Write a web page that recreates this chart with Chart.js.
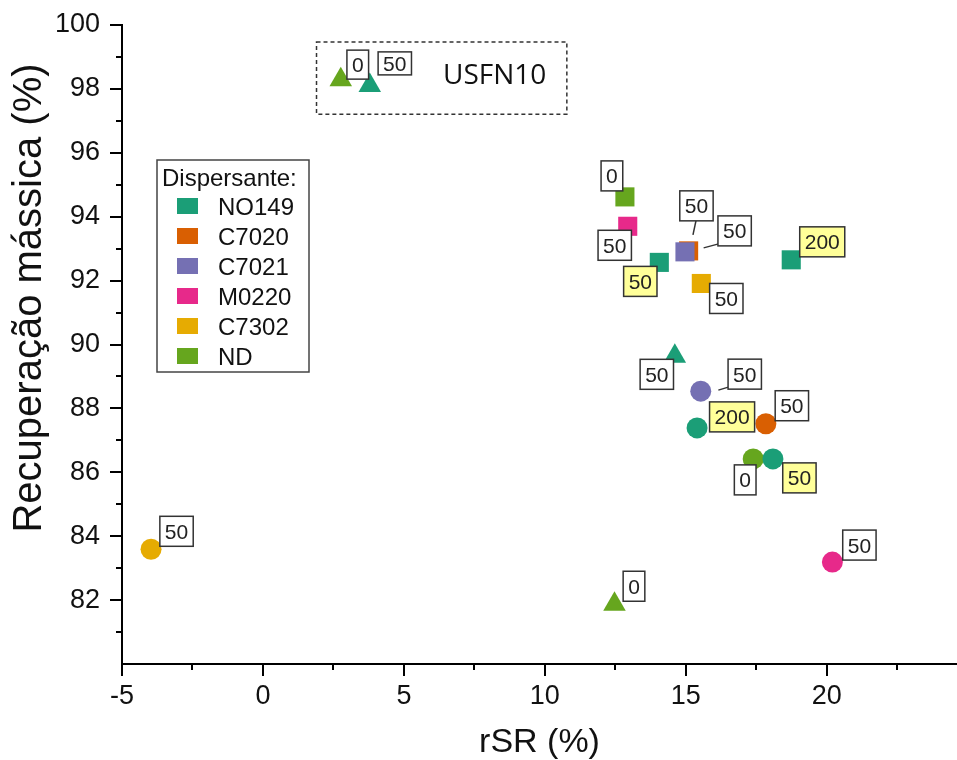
<!DOCTYPE html>
<html>
<head>
<meta charset="utf-8">
<title>Recuperação mássica vs rSR</title>
<script src="https://cdn.jsdelivr.net/npm/chart.js@4.4.1/dist/chart.umd.min.js"></script>
<style>
  html, body { margin: 0; padding: 0; background: #ffffff; }
  #wrap { width: 957px; height: 760px; }
</style>
</head>
<body>
<div id="wrap"><canvas id="chart" width="957" height="760"></canvas></div>
<script>
// ---- data ----
const dispersants = ['NO149', 'C7020', 'C7021', 'M0220', 'C7302', 'ND'];
const dispersantColors = ['#1b9e77', '#d95f02', '#7570b3', '#e7298a', '#e6ab02', '#66a61e'];

// one entry per sample
const sampleDispersant = ['ND', 'NO149', 'ND', 'M0220', 'NO149', 'C7021', 'C7020', 'C7302', 'NO149',
                          'NO149', 'C7021', 'NO149', 'C7020', 'ND', 'NO149', 'C7302', 'M0220', 'ND'];
const sampleGroup = ['T', 'T', 'S', 'S', 'S', 'S', 'S', 'S', 'S',
                     'T', 'C', 'C', 'C', 'C', 'C', 'C', 'C', 'T'];
const rSR = [2.76, 3.79, 12.84, 12.94, 14.06, 14.97, 15.10, 15.55, 18.74,
             14.61, 15.53, 15.40, 17.84, 17.39, 18.09, -3.97, 20.20, 12.47];
const recovery = [98.29, 98.11, 94.62, 93.70, 92.57, 92.90, 92.93, 91.91, 92.65,
                  89.63, 88.54, 87.39, 87.52, 86.42, 86.42, 83.59, 83.19, 81.87];
const dosage = ['0', '50', '0', '50', '50', '50', '50', '50', '200',
                '50', '50', '200', '50', '0', '50', '50', '50', '0'];
const highlighted = [false, false, false, false, true, false, false, false, true,
                     false, false, true, false, false, true, false, false, false];

const xTickLabels = [-5, 0, 5, 10, 15, 20];
const yTickLabels = [82, 84, 86, 88, 90, 92, 94, 96, 98, 100];

// USFN10 group frame (axis units)
const usfnFrame = { xMin: 1.90, xMax: 10.78, yMin: 97.21, yMax: 99.47, textX: 8.22, textY: 98.40, text: 'USFN10' };

// ---- presentation ----
const FONT = '"Liberation Sans", Arial, Helvetica, sans-serif';
const groupMarker = { T: 'triangle', S: 'rect', C: 'circle' };
const markerRadius = { triangle: 13, rect: 13.5, circle: 10.5 };
const stackOrder = ['NO149', 'C7021', 'C7020', 'M0220', 'C7302', 'ND'];

// label box placement relative to its marker, in pixels
const labelOffsets = [
  [17, -15], [25, -22], [-13, -21], [-13, 19], [-19, 19], [11.5, -46], [46, -20], [25, 15], [31, -18],
  [-18, 18], [44, -17], [35, -11], [26, -18], [-8, 21], [26.5, 19], [25.5, -18], [27, -17], [19.5, -18]
];
const labelBoxHeight = { 0: 29, 1: 23 };
const leaderLines = { 5: [11, -31, 8, -17], 6: [15, -3, 30, -7], 10: [17.6, -1, 27.6, -4] };

const datasets = stackOrder.map(name => {
  const idx = sampleDispersant.map((d, i) => (d === name ? i : -1)).filter(i => i >= 0);
  const color = dispersantColors[dispersants.indexOf(name)];
  const styles = idx.map(i => groupMarker[sampleGroup[i]]);
  return {
    label: name,
    data: idx.map(i => ({ x: rSR[i], y: recovery[i] })),
    pointStyle: styles,
    pointRadius: styles.map(s => markerRadius[s]),
    pointHoverRadius: styles.map(s => markerRadius[s]),
    backgroundColor: color,
    borderColor: color,
    pointBorderWidth: 0,
    borderWidth: 0
  };
});

// outward tick marks, major and minor
const axisTicks = {
  id: 'axisTicks',
  afterDraw(chart) {
    const { ctx, chartArea } = chart;
    const xs = chart.scales.x, ys = chart.scales.y;
    ctx.save();
    ctx.strokeStyle = '#000';
    ctx.lineWidth = 2;
    ctx.beginPath();
    for (let v = -5; v <= 22.5 + 1e-9; v += 2.5) {
      const px = Math.round(xs.getPixelForValue(v));
      const len = Math.abs(v % 5) < 1e-9 ? 12 : 6;
      ctx.moveTo(px, chartArea.bottom);
      ctx.lineTo(px, chartArea.bottom + len);
    }
    for (let v = 81; v <= 100; v += 1) {
      const py = Math.round(ys.getPixelForValue(v));
      const len = v % 2 === 0 ? 12 : 6;
      ctx.moveTo(chartArea.left, py);
      ctx.lineTo(chartArea.left - len, py);
    }
    ctx.stroke();
    ctx.restore();
  }
};

// dashed frame around the USFN10 samples
const groupFrame = {
  id: 'groupFrame',
  beforeDatasetsDraw(chart) {
    const { ctx } = chart;
    const xs = chart.scales.x, ys = chart.scales.y;
    const l = xs.getPixelForValue(usfnFrame.xMin), r = xs.getPixelForValue(usfnFrame.xMax);
    const t = ys.getPixelForValue(usfnFrame.yMax), b = ys.getPixelForValue(usfnFrame.yMin);
    ctx.save();
    ctx.strokeStyle = '#333';
    ctx.lineWidth = 1.5;
    ctx.setLineDash([4, 3]);
    ctx.strokeRect(l, t, r - l, b - t);
    ctx.setLineDash([]);
    ctx.fillStyle = '#111';
    ctx.font = '28px "Open Sans", Lato, sans-serif';
    ctx.textAlign = 'center';
    ctx.textBaseline = 'middle';
    ctx.fillText(usfnFrame.text, xs.getPixelForValue(usfnFrame.textX), ys.getPixelForValue(usfnFrame.textY));
    ctx.restore();
  }
};

// boxed dosage labels next to each marker
const dosageLabels = {
  id: 'dosageLabels',
  afterDatasetsDraw(chart) {
    const { ctx } = chart;
    const xs = chart.scales.x, ys = chart.scales.y;
    const fs = 21;
    ctx.save();
    ctx.font = fs + 'px ' + FONT;
    rSR.forEach((v, i) => {
      const px = xs.getPixelForValue(v), py = ys.getPixelForValue(recovery[i]);
      const lead = leaderLines[i];
      if (lead) {
        ctx.strokeStyle = '#333';
        ctx.lineWidth = 1.5;
        ctx.beginPath();
        ctx.moveTo(px + lead[0], py + lead[1]);
        ctx.lineTo(px + lead[2], py + lead[3]);
        ctx.stroke();
      }
      const [dx, dy] = labelOffsets[i];
      const tw = ctx.measureText(dosage[i]).width;
      const w = tw + 10, h = labelBoxHeight[i] || 30;
      const cx = px + dx, cy = py + dy;
      ctx.fillStyle = highlighted[i] ? '#ffff99' : '#ffffff';
      ctx.fillRect(cx - w / 2, cy - h / 2, w, h);
      ctx.strokeStyle = '#333';
      ctx.lineWidth = 1.5;
      ctx.strokeRect(cx - w / 2, cy - h / 2, w, h);
      ctx.fillStyle = '#222';
      ctx.textAlign = 'center';
      ctx.textBaseline = 'alphabetic';
      ctx.fillText(dosage[i], cx, cy + 0.358 * fs);
    });
    ctx.restore();
  }
};

// dispersant key and rotated y title
const keyAndTitle = {
  id: 'keyAndTitle',
  afterDraw(chart) {
    const { ctx } = chart;
    ctx.save();
    const box = { left: 157, top: 160, width: 152, height: 212 };
    ctx.strokeStyle = '#444';
    ctx.lineWidth = 1.5;
    ctx.strokeRect(box.left, box.top, box.width, box.height);
    const fs = 24;
    ctx.font = fs + 'px ' + FONT;
    ctx.fillStyle = '#111';
    ctx.textAlign = 'left';
    ctx.textBaseline = 'alphabetic';
    ctx.fillText('Dispersante:', box.left + 5, 177 + 0.358 * fs);
    dispersants.forEach((name, i) => {
      const y = 206 + i * 30;
      ctx.fillStyle = dispersantColors[i];
      ctx.fillRect(177, y - 8, 21, 16);
      ctx.fillStyle = '#111';
      ctx.fillText(name, 218, y + 0.358 * fs);
    });

    ctx.translate(30, 298);
    ctx.rotate(-Math.PI / 2);
    ctx.font = '40px ' + FONT;
    ctx.textAlign = 'center';
    ctx.textBaseline = 'middle';
    ctx.fillStyle = '#111';
    ctx.fillText('Recuperação mássica (%)', 0, 0);
    ctx.restore();
  }
};

new Chart(document.getElementById('chart'), {
  type: 'scatter',
  data: { datasets },
  options: {
    responsive: false,
    animation: false,
    devicePixelRatio: 1,
    layout: { autoPadding: false, padding: { top: 25, right: 0, bottom: 0, left: 0 } },
    plugins: { legend: { display: false }, tooltip: { enabled: false } },
    scales: {
      x: {
        type: 'linear',
        position: 'bottom',
        min: -5,
        max: 24.62,
        afterFit(scale) { scale.height = 96; scale.paddingLeft = 0; scale.paddingRight = 0; },
        grid: { display: false, drawTicks: false },
        border: { display: true, color: '#000', width: 2 },
        ticks: {
          stepSize: 5,
          includeBounds: false,
          autoSkip: false,
          maxRotation: 0,
          padding: 16,
          color: '#111',
          font: { family: FONT, size: 27 },
          callback: v => (xTickLabels.includes(v) ? String(v) : '')
        },
        title: {
          display: true,
          text: 'rSR (%)',
          color: '#111',
          font: { family: FONT, size: 34, lineHeight: 1 },
          padding: { top: 0, bottom: 0 }
        }
      },
      y: {
        type: 'linear',
        min: 80,
        max: 100,
        afterFit(scale) { scale.width = 122; scale.paddingTop = 0; scale.paddingBottom = 0; },
        grid: { display: false, drawTicks: false },
        border: { display: true, color: '#000', width: 2 },
        ticks: {
          stepSize: 2,
          autoSkip: false,
          padding: 22,
          color: '#111',
          font: { family: FONT, size: 27 },
          callback: v => (yTickLabels.includes(v) ? String(v) : '')
        }
      }
    }
  },
  plugins: [groupFrame, dosageLabels, axisTicks, keyAndTitle]
});
</script>
</body>
</html>
